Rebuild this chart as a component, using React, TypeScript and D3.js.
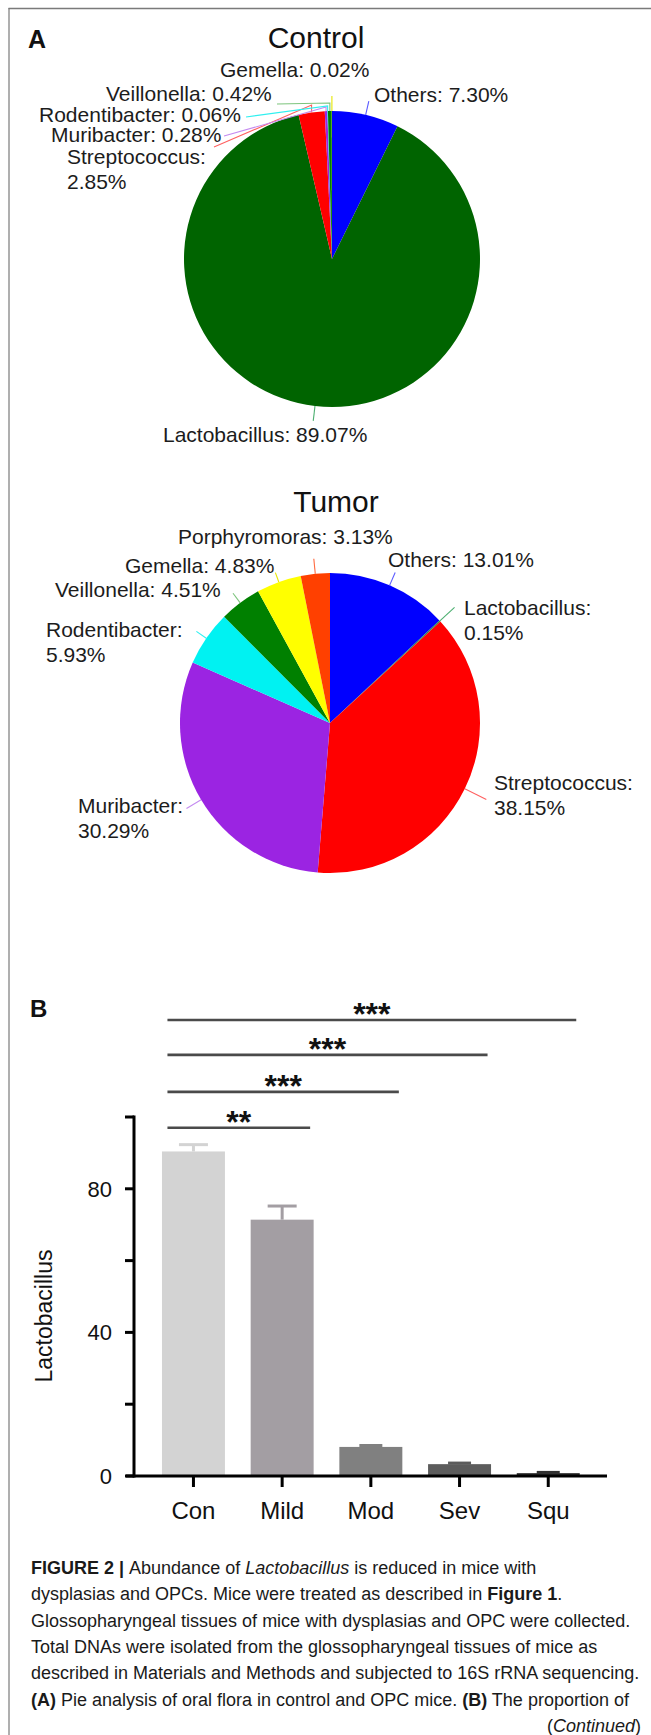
import React from "react";
import * as d3 from "d3";

// ---------- data ----------
const controlGenera = ["Others", "Lactobacillus", "Streptococcus", "Muribacter", "Rodentibacter", "Veillonella", "Gemella"];
const controlShares = [7.3, 89.07, 2.85, 0.28, 0.06, 0.42, 0.02];

const tumorGenera = ["Others", "Lactobacillus", "Streptococcus", "Muribacter", "Rodentibacter", "Veillonella", "Gemella", "Porphyromoras"];
const tumorShares = [13.01, 0.15, 38.15, 30.29, 5.93, 4.51, 4.83, 3.13];

const groups = ["Con", "Mild", "Mod", "Sev", "Squ"];
const lactoMeans = [90.4, 71.4, 8.1, 3.3, 0.8];
const lactoErrors = [1.9, 3.8, 0.4, 0.3, 0.2];
const yTickValues = [0, 20, 40, 60, 80, 100];
const yTickLabels = ["0", "", "40", "", "80", ""];
const compTargets = ["Mild", "Mod", "Sev", "Squ"];
const compStars = ["**", "***", "***", "***"];
const compLevels = [97, 107, 117.3, 127];

// ---------- styles / layout ----------
const FONT = "'Liberation Sans', Arial, Helvetica, sans-serif";
const W = 651;
const H = 1735;

const genusColor: Record<string, string> = {
  Others: "#0000ff",
  Lactobacillus: "#006400",
  Streptococcus: "#ff0000",
  Muribacter: "#9b24e2",
  Rodentibacter: "#00f2f2",
  Veillonella: "#008000",
  Gemella: "#ffff00",
  Porphyromoras: "#ff4000",
};
const leaderColor: Record<string, string> = {
  Others: "#5a5aff",
  Lactobacillus: "#4caf70",
  Streptococcus: "#ff6060",
  Muribacter: "#c48af0",
  Rodentibacter: "#30f0f0",
  Veillonella: "#7cc47c",
  Gemella: "#e6e600",
  Porphyromoras: "#ff6a40",
};

type LabelLayout = {
  x: number;
  y: number;
  two?: boolean;
  radial?: number;
  elbowY?: number;
  end?: [number, number];
};

const controlLayout: Record<string, LabelLayout> = {
  Others: { x: 374, y: 102, radial: 14 },
  Lactobacillus: { x: 163, y: 442, radial: 15 },
  Streptococcus: { x: 67, y: 164, two: true, elbowY: 105, end: [214, 147] },
  Muribacter: { x: 51, y: 142, elbowY: 107, end: [224, 136] },
  Rodentibacter: { x: 39, y: 122, elbowY: 106, end: [246, 117] },
  Veillonella: { x: 106, y: 101, elbowY: 103, end: [277, 104] },
  Gemella: { x: 220, y: 77, elbowY: 96 },
};

const tumorLayout: Record<string, LabelLayout> = {
  Others: { x: 388, y: 567, radial: 14 },
  Lactobacillus: { x: 464, y: 615, two: true, radial: 20 },
  Streptococcus: { x: 494, y: 790, two: true, radial: 24 },
  Muribacter: { x: 78, y: 813, two: true, radial: 17 },
  Rodentibacter: { x: 46, y: 637, two: true, radial: 12 },
  Veillonella: { x: 55, y: 597, radial: 12 },
  Gemella: { x: 125, y: 573, radial: 10 },
  Porphyromoras: { x: 178, y: 544, radial: 15 },
};

type PieProps = {
  genera: string[];
  shares: number[];
  cx: number;
  cy: number;
  r: number;
  layout: Record<string, LabelLayout>;
  lactoColor: string;
};

function Pie({ genera, shares, cx, cy, r, layout, lactoColor }: PieProps) {
  const arcs = d3.pie<number>().sort(null).value((d) => d)(shares);
  const slice = d3.arc<d3.PieArcDatum<number>>().innerRadius(0).outerRadius(r);
  const ring = (R: number) => d3.arc<d3.PieArcDatum<number>>().innerRadius(R).outerRadius(R);
  const colorOf = (g: string) => (g === "Lactobacillus" ? lactoColor : genusColor[g]);
  return (
    <g>
      <g transform={`translate(${cx},${cy})`}>
        {arcs.map((a, i) => (
          <path key={i} d={slice(a) || ""} fill={colorOf(genera[i])} />
        ))}
      </g>
      {arcs.map((a, i) => {
        const g = genera[i];
        const L = layout[g];
        const [sx, sy] = ring(r).centroid(a);
        const p0: [number, number] = [cx + sx, cy + sy];
        let pts: [number, number][];
        if (L.radial !== undefined) {
          const [ex, ey] = ring(r + L.radial).centroid(a);
          pts = [p0, [cx + ex, cy + ey]];
        } else {
          pts = [p0, [p0[0], L.elbowY as number]];
          if (L.end) pts.push(L.end);
        }
        const line = d3.line()(pts) || "";
        const val = `${shares[i].toFixed(2)}%`;
        return (
          <g key={"l" + i}>
            <path d={line} fill="none" stroke={leaderColor[g]} strokeWidth={1.1} />
            {L.two ? (
              <text x={L.x} y={L.y} fontSize={21} fill="#1c1c1c">
                <tspan x={L.x} y={L.y}>{`${g}:`}</tspan>
                <tspan x={L.x} y={L.y + 25}>{val}</tspan>
              </text>
            ) : (
              <text x={L.x} y={L.y} fontSize={21} fill="#1c1c1c">{`${g}: ${val}`}</text>
            )}
          </g>
        );
      })}
    </g>
  );
}

type Seg = [string, string?];
const captionLines: Seg[][] = [
  [["FIGURE 2 | ", "b"], ["Abundance of "], ["Lactobacillus", "i"], [" is reduced in mice with"]],
  [["dysplasias and OPCs. Mice were treated as described in "], ["Figure 1", "b"], ["."]],
  [["Glossopharyngeal tissues of mice with dysplasias and OPC were collected."]],
  [["Total DNAs were isolated from the glossopharyngeal tissues of mice as"]],
  [["described in Materials and Methods and subjected to 16S rRNA sequencing."]],
  [["(A)", "b"], [" Pie analysis of oral flora in control and OPC mice. "], ["(B)", "b"], [" The proportion of"]],
];

export default function App() {
  // bar chart scales
  const x = d3.scaleBand<string>().domain(groups).range([149.1, 592.6]).paddingInner(0.29).paddingOuter(0.145);
  const y = d3.scaleLinear().domain([0, 100]).range([1476, 1117]);
  const barColors = ["#d3d3d3", "#a39ea3", "#808080", "#5c5c5c", "#303030"];
  const bw = x.bandwidth();
  const cxOf = (g: string) => (x(g) as number) + bw / 2;
  const axisX = 134;

  return (
    <svg
      width={W}
      height={H}
      viewBox={`0 0 ${W} ${H}`}
      style={{ position: "absolute", left: 0, top: 0, display: "block" }}
      fontFamily={FONT}
    >
      <rect x={0} y={0} width={W} height={H} fill="#ffffff" />
      {/* frame */}
      <line x1={8.5} y1={8.5} x2={W} y2={8.5} stroke="#7a7a7a" strokeWidth={1.6} />
      <line x1={9} y1={8} x2={9} y2={H} stroke="#7a7a7a" strokeWidth={1.2} />

      {/* Panel A */}
      <text x={28} y={48} fontSize={25} fontWeight="bold" fill="#111">A</text>
      <text x={316} y={48} fontSize={30} textAnchor="middle" fill="#111">Control</text>
      <Pie genera={controlGenera} shares={controlShares} cx={332} cy={259} r={148} layout={controlLayout} lactoColor="#006400" />

      <text x={336} y={512} fontSize={30} textAnchor="middle" fill="#111">Tumor</text>
      <Pie genera={tumorGenera} shares={tumorShares} cx={330} cy={723} r={150} layout={tumorLayout} lactoColor="#2e8b57" />

      {/* Panel B */}
      <text x={30} y={1017} fontSize={24} fontWeight="bold" fill="#111">B</text>

      {/* bars */}
      {groups.map((g, i) => (
        <rect key={g} x={x(g)} y={y(lactoMeans[i])} width={bw} height={y(0) - y(lactoMeans[i])} fill={barColors[i]} />
      ))}
      {/* error bars */}
      {groups.map((g, i) => {
        const c = cxOf(g);
        const top = y(lactoMeans[i] + lactoErrors[i]);
        const half = i < 2 ? 14.5 : 11.5;
        return (
          <g key={"e" + g} stroke={barColors[i]} strokeWidth={3}>
            <line x1={c} x2={c} y1={y(lactoMeans[i])} y2={top} />
            <line x1={c - half} x2={c + half} y1={top} y2={top} />
          </g>
        );
      })}

      {/* y axis */}
      <line x1={axisX} x2={axisX} y1={y(100) - 1.5} y2={y(0) + 1.5} stroke="#000" strokeWidth={3} />
      {yTickValues.map((v, i) => (
        <g key={"yt" + v}>
          <line x1={axisX - 9} x2={axisX} y1={y(v)} y2={y(v)} stroke="#000" strokeWidth={3} />
          {yTickLabels[i] && (
            <text x={112} y={y(v)} dy="0.36em" fontSize={22} textAnchor="end" fill="#111">
              {yTickLabels[i]}
            </text>
          )}
        </g>
      ))}
      <text transform={`translate(52,1316) rotate(-90)`} fontSize={23} textAnchor="middle" fill="#111">
        Lactobacillus
      </text>

      {/* x axis */}
      <line x1={126} x2={607} y1={y(0)} y2={y(0)} stroke="#000" strokeWidth={3} />
      {groups.map((g) => (
        <g key={"xt" + g}>
          <line x1={cxOf(g)} x2={cxOf(g)} y1={y(0)} y2={y(0) + 11} stroke="#000" strokeWidth={3} />
          <text x={cxOf(g)} y={1519} fontSize={24} textAnchor="middle" fill="#111">
            {g}
          </text>
        </g>
      ))}

      {/* significance */}
      {compTargets.map((t, i) => {
        const x1 = cxOf("Con") - 26;
        const x2 = cxOf(t) + 28;
        const ly = y(compLevels[i]);
        return (
          <g key={"s" + t}>
            <line x1={x1} x2={x2} y1={ly} y2={ly} stroke="#4a4a4a" strokeWidth={2.6} />
            <text x={(x1 + x2) / 2} y={ly + 5} fontSize={32} fontWeight="bold" textAnchor="middle" fill="#111">
              {compStars[i]}
            </text>
          </g>
        );
      })}

      {/* caption */}
      {captionLines.map((segs, li) => (
        <text key={"c" + li} x={31} y={1574 + li * 26.3} fontSize={18} fill="#1a1a1a">
          {segs.map((s, si) => (
            <tspan key={si} fontWeight={s[1] === "b" ? "bold" : "normal"} fontStyle={s[1] === "i" ? "italic" : "normal"}>
              {s[0]}
            </tspan>
          ))}
        </text>
      ))}
      <text x={641} y={1574 + 6 * 26.3} fontSize={18} textAnchor="end" fill="#1a1a1a">
        (<tspan fontStyle="italic">Continued</tspan>)
      </text>
    </svg>
  );
}
